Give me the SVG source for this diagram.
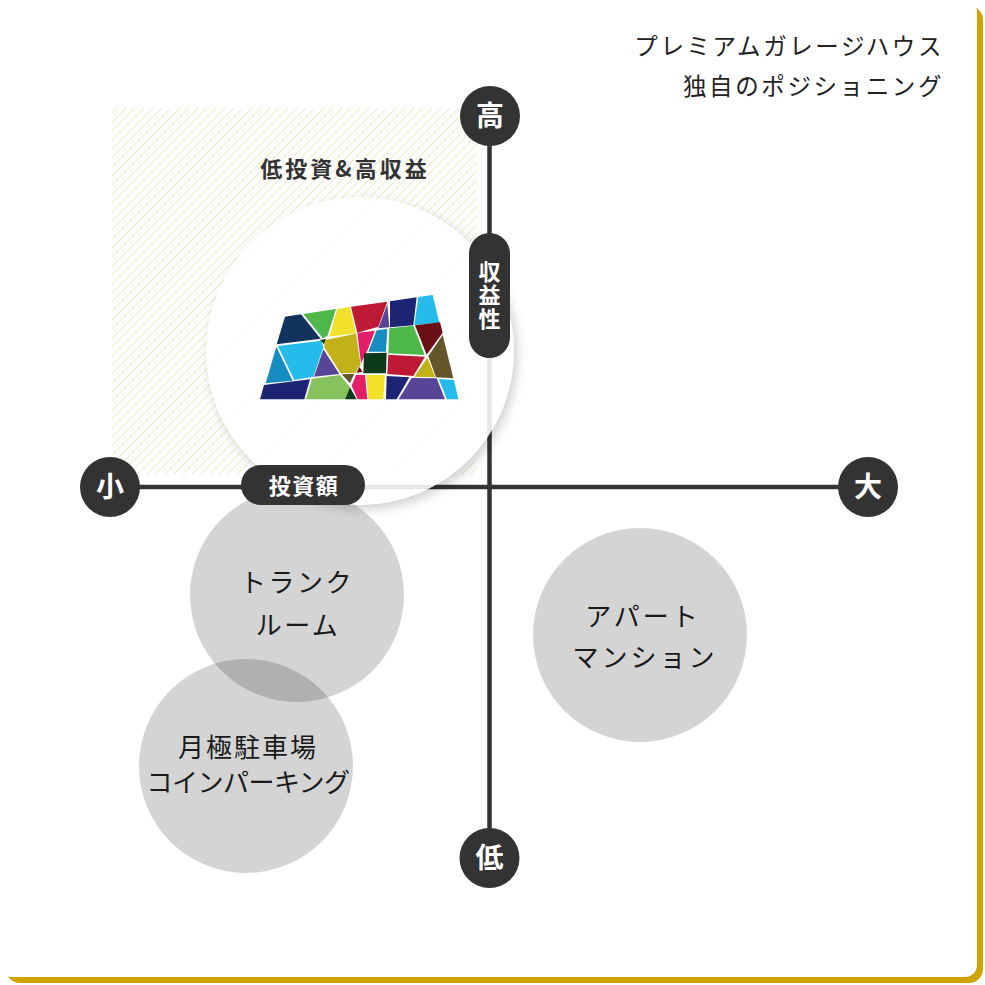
<svg xmlns="http://www.w3.org/2000/svg" width="985" height="985" viewBox="0 0 985 985">
  <style>
    .dark { fill: #333333; }
    .axis { stroke: #333333; stroke-width: 4.5; fill: none; }
    .bub { fill: #000000; fill-opacity: 0.17; }
    .bubtxt { font-family: "Noto Sans CJK JP", "Noto Sans", sans-serif; font-size: 26px; fill: #1a1a1a; text-anchor: middle; }
    .lbl { font-family: "Noto Sans CJK JP", "Noto Sans", sans-serif; font-weight: bold; fill: #ffffff; text-anchor: middle; }
    .title { font-family: "Noto Sans CJK JP", "Noto Sans", sans-serif; font-size: 23.5px; fill: #222222; text-anchor: end; letter-spacing: 2.6px; }
  </style>
  <defs>
    <pattern id="hatch" patternUnits="userSpaceOnUse" width="9" height="9">
      <path d="M-2,2 L2,-2 M0,9 L9,0 M7,11 L11,7" stroke="#ece6b4" stroke-width="1"/>
    </pattern>
    <filter id="blur" x="-20%" y="-20%" width="140%" height="140%">
      <feGaussianBlur stdDeviation="6"/>
    </filter>
    <mask id="outside">
      <rect x="0" y="0" width="985" height="985" fill="#ffffff"/>
      <circle cx="360" cy="351" r="154" fill="#000000"/>
    </mask>
  </defs>

  <!-- card -->
  <g id="card">
    <rect x="6" y="6" width="977" height="977" rx="14" fill="#cfa300"/>
    <rect x="0" y="0" width="977" height="977" rx="12" fill="#ffffff"/>
  </g>

  <!-- title -->
  <g id="title">
    <text class="title" x="944" y="55">プレミアムガレージハウス</text>
    <text class="title" x="944" y="95">独自のポジショニング</text>
  </g>

  <!-- hatched zone -->
  <g id="zone">
    <rect x="112" y="108" width="365" height="366" fill="url(#hatch)"/>
    <text x="345" y="177" font-family="Noto Sans CJK JP, Noto Sans, sans-serif" font-size="22" font-weight="bold" fill="#333333" text-anchor="middle" letter-spacing="3">低投資&amp;高収益</text>
  </g>

  <!-- comparison bubbles -->
  <g id="node-trunk">
    <circle class="bub" cx="297" cy="595" r="107"/>
    <text class="bubtxt" x="297" y="592" letter-spacing="2.5">トランク</text>
    <text class="bubtxt" x="298" y="635" letter-spacing="2.5">ルーム</text>
  </g>
  <g id="node-parking">
    <circle class="bub" cx="246" cy="766" r="107"/>
    <text class="bubtxt" x="248" y="757" letter-spacing="2" font-size="25">月極駐車場</text>
    <text class="bubtxt" x="248" y="792" letter-spacing="-0.5" font-size="25">コインパーキング</text>
  </g>
  <g id="node-apartment">
    <circle class="bub" cx="640" cy="635" r="107"/>
    <text class="bubtxt" x="643" y="626" letter-spacing="3">アパート</text>
    <text class="bubtxt" x="645" y="667" letter-spacing="3">マンション</text>
  </g>

  <!-- axes -->
  <g id="connectors">
    <line class="axis" x1="489.5" y1="116" x2="489.5" y2="858"/>
    <line class="axis" x1="110" y1="487" x2="868" y2="487"/>
  </g>

  <g id="node-high">
    <circle class="dark" cx="490" cy="116" r="30"/>
    <text class="lbl" x="490" y="126" font-size="28">高</text>
  </g>
  <g id="node-low">
    <circle class="dark" cx="489.5" cy="858" r="30"/>
    <text class="lbl" x="489.5" y="868" font-size="28">低</text>
  </g>
  <g id="node-small">
    <circle class="dark" cx="110" cy="487" r="30"/>
    <text class="lbl" x="110" y="497" font-size="28">小</text>
  </g>
  <g id="node-large">
    <circle class="dark" cx="868" cy="487" r="30"/>
    <text class="lbl" x="868" y="497" font-size="28">大</text>
  </g>

  <!-- highlight circle -->
  <g id="node-premium">
    <circle cx="363" cy="355" r="154" fill="#000000" opacity="0.2" filter="url(#blur)" mask="url(#outside)"/>
    <circle cx="360" cy="351" r="154" fill="#ffffff" fill-opacity="0.88"/>
    <g id="logo" transform="translate(250,290) scale(0.33333)">
      <polygon fill="#13335f" points="105,80 153,73 212,146 80,163"/>
      <polygon fill="#4eb749" points="160,72 258,57 232,138 218,145"/>
      <polygon fill="#0c3a1b" points="210,150 228,147 222,163"/>
      <polygon fill="#f2e12a" points="262,57 300,51 318,130 238,140"/>
      <polygon fill="#be1a36" points="303,50 412,35 385,110 322,128"/>
      <polygon fill="#594597" points="412,42 418,112 385,115"/>
      <polygon fill="#1e2474" points="420,34 500,22 490,106 420,112"/>
      <polygon fill="#25bbeb" points="505,21 548,15 568,98 493,105"/>
      <polygon fill="#168dc0" points="79,170 128,272 47,280"/>
      <polygon fill="#25bbeb" points="84,168 214,152 220,172 190,260 133,270"/>
      <polygon fill="#594597" points="220,178 268,252 192,260"/>
      <polygon fill="#c2b119" points="225,150 318,131 332,225 325,232 318,248 272,250 223,172"/>
      <polygon fill="#6b0f16" points="328,230 338,246 320,248"/>
      <polygon fill="#e31f6a" points="322,128 375,122 352,182 333,220"/>
      <polygon fill="#168dc0" points="380,121 412,117 408,185 355,185"/>
      <polygon fill="#0c3a1b" points="342,190 410,188 408,250 340,250"/>
      <polygon fill="#4eb749" points="418,115 490,107 524,195 415,190"/>
      <polygon fill="#6b0f16" points="495,106 570,97 578,128 530,194"/>
      <polygon fill="#be1a36" points="415,194 525,200 490,258 412,252"/>
      <polygon fill="#c2b119" points="532,203 556,262 493,260"/>
      <polygon fill="#64552a" points="578,135 610,265 558,262 535,198"/>
      <polygon fill="#1e2474" points="42,285 180,268 163,328 30,328"/>
      <polygon fill="#86c35d" points="186,266 270,255 300,292 285,328 168,328"/>
      <polygon fill="#64552a" points="275,253 313,251 300,280"/>
      <polygon fill="#0c3a1b" points="300,292 320,328 285,328"/>
      <polygon fill="#e31f6a" points="318,255 345,255 352,328 323,328 305,287"/>
      <polygon fill="#f2e12a" points="349,255 405,255 400,328 355,328"/>
      <polygon fill="#1e2474" points="410,258 478,262 440,328 408,328"/>
      <polygon fill="#594597" points="485,264 560,265 585,328 446,328"/>
      <polygon fill="#25bbeb" points="566,267 612,270 625,328 591,328"/>
    </g>
  </g>

  <!-- axis name pills -->
  <g id="node-profit">
    <rect class="dark" x="469" y="233" width="41" height="125" rx="20.5"/>
    <text class="lbl" x="489.5" y="295.5" font-size="22" writing-mode="vertical-rl" letter-spacing="1.5">収益性</text>
  </g>
  <g id="node-invest">
    <rect class="dark" x="241" y="465" width="124" height="40" rx="20"/>
    <text class="lbl" x="304" y="494" font-size="22" letter-spacing="1.5">投資額</text>
  </g>
</svg>
